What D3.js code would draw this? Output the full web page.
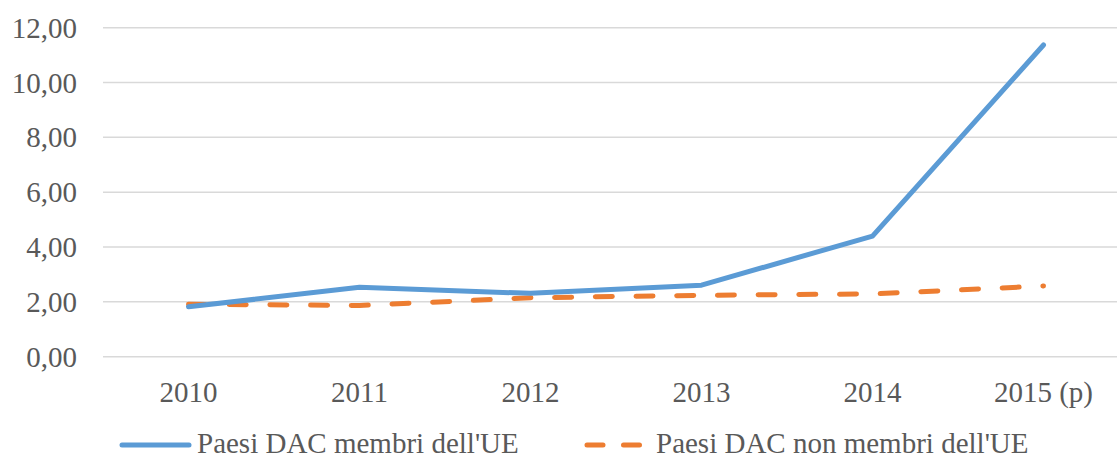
<!DOCTYPE html>
<html>
<head>
<meta charset="utf-8">
<style>
  body { margin: 0; background: #fff; }
  svg text { font-family: "Liberation Serif", "Times New Roman", Times, "DejaVu Serif", serif; }
</style>
</head>
<body>
<svg id="chart" width="1117" height="459"></svg>
<script src="https://d3js.org/d3.v7.min.js"></script>
<script>
var years = ["2010", "2011", "2012", "2013", "2014", "2015 (p)"];
var euMembers = [1.82, 2.53, 2.31, 2.61, 4.40, 11.37];
var nonEuMembers = [1.91, 1.87, 2.15, 2.24, 2.29, 2.58];
var yTicks = [0, 2, 4, 6, 8, 10, 12];
var seriesNames = ["Paesi DAC membri dell'UE", "Paesi DAC non membri dell'UE"];

var svg = d3.select("#chart");
var fontSize = 29, textColor = "#595959";
var serif = "'Liberation Serif', 'Times New Roman', Times, 'DejaVu Serif', serif";

var x = d3.scaleBand().domain(years).range([103, 1129]);
var y = d3.scaleLinear().domain([0, 12]).range([356.7, 27.7]);

// gridlines
svg.append("g").selectAll("line")
    .data(yTicks)
  .enter().append("line")
    .attr("x1", 103).attr("x2", 1129)
    .attr("y1", function(d) { return y(d); })
    .attr("y2", function(d) { return y(d); })
    .attr("stroke", "#d9d9d9")
    .attr("stroke-width", 1.5);

// y axis labels
var fmt = function(d) { return d3.format(".2f")(d).replace(".", ","); };
svg.append("g").selectAll("text")
    .data(yTicks)
  .enter().append("text")
    .attr("x", 77)
    .attr("y", function(d) { return y(d) + 10; })
    .attr("text-anchor", "end")
    .attr("font-family", serif)
    .attr("font-size", fontSize)
    .attr("fill", textColor)
    .text(fmt);

// x axis labels
svg.append("g").selectAll("text")
    .data(years)
  .enter().append("text")
    .attr("x", function(d) { return x(d) + x.bandwidth() / 2; })
    .attr("y", 401.7)
    .attr("text-anchor", "middle")
    .attr("font-family", serif)
    .attr("font-size", fontSize)
    .attr("fill", textColor)
    .text(function(d) { return d; });

var line = d3.line()
    .x(function(d, i) { return x(years[i]) + x.bandwidth() / 2; })
    .y(function(d) { return y(d); });

svg.append("path")
    .attr("d", line(nonEuMembers))
    .attr("fill", "none")
    .attr("stroke", "#ed7d31")
    .attr("stroke-width", 5)
    .attr("stroke-linecap", "round")
    .attr("stroke-dasharray", "17,23.7");

svg.append("path")
    .attr("d", line(euMembers))
    .attr("fill", "none")
    .attr("stroke", "#5b9bd5")
    .attr("stroke-width", 5)
    .attr("stroke-linecap", "round")
    .attr("stroke-linejoin", "round");

// legend (kept just clear of the bottom edge)
var legY = 445;
svg.append("line")
    .attr("x1", 122).attr("x2", 189)
    .attr("y1", legY).attr("y2", legY)
    .attr("stroke", "#5b9bd5").attr("stroke-width", 5)
    .attr("stroke-linecap", "round");
svg.append("text")
    .attr("x", 197).attr("y", 452.5)
    .attr("font-family", serif)
    .attr("font-size", fontSize).attr("fill", textColor)
    .text(seriesNames[0]);

svg.append("line")
    .attr("x1", 587).attr("x2", 640)
    .attr("y1", legY).attr("y2", legY)
    .attr("stroke", "#ed7d31").attr("stroke-width", 5)
    .attr("stroke-linecap", "round")
    .attr("stroke-dasharray", "16,20.5");
svg.append("text")
    .attr("x", 656).attr("y", 452.5)
    .attr("font-family", serif)
    .attr("font-size", fontSize).attr("fill", textColor)
    .text(seriesNames[1]);
</script>
</body>
</html>
